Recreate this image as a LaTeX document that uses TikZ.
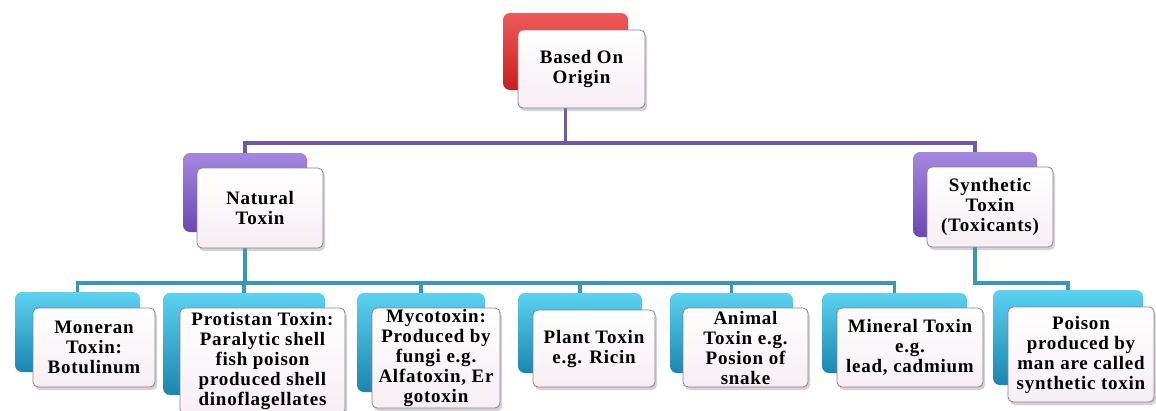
\documentclass[tikz,border=0pt]{standalone}
\usepackage{fontspec}
\setmainfont{Liberation Serif}
\newfontfamily\boxfont[LetterSpace=4]{Liberation Serif}
\usetikzlibrary{shadows,backgrounds}
\definecolor{redT}{HTML}{F05A5A}
\definecolor{redB}{HTML}{C81E1E}
\definecolor{purT}{HTML}{A488E0}
\definecolor{purB}{HTML}{6A48B0}
\definecolor{teaT}{HTML}{5AD2F0}
\definecolor{teaB}{HTML}{1A86B0}
\definecolor{purLine}{HTML}{6E5AA8}
\definecolor{teaLine}{HTML}{3898B8}
\definecolor{frontEdge}{HTML}{8C8094}
\definecolor{frontBot}{HTML}{F6EEF3}
\begin{document}
\begin{tikzpicture}[x=1pt,y=-1pt,
  back/.style={rounded corners=7pt, draw=none, inner sep=0pt},
  redback/.style={back, top color=redT, bottom color=redB},
  purback/.style={back, top color=purT, bottom color=purB},
  teaback/.style={back, top color=teaT, bottom color=teaB},
  front/.style={rounded corners=5pt, draw=frontEdge, line width=0.8pt,
    top color=white, bottom color=frontBot, align=center, inner sep=1pt,
    font=\boxfont\bfseries\fontsize{19}{20}\selectfont,
    drop shadow={opacity=0.35, shadow xshift=2pt, shadow yshift=-3pt}},
  pline/.style={draw=purLine, line width=3.5pt},
  tline/.style={draw=teaLine, line width=3.5pt}]
\useasboundingbox (0,0) rectangle (1156,410);

% level 0
\node[redback, minimum width=125pt, minimum height=77pt] (topB) at (565.5,51.5) {};
\node[front, minimum width=127pt, minimum height=78pt] (topF) at (581.5,69) {Based On\\Origin};

% level 1
\node[purback, minimum width=124pt, minimum height=79pt] (natB) at (245,192.5) {};
\node[front, minimum width=126pt, minimum height=80pt] (natF) at (260,208) {Natural\\Toxin};
\node[purback, minimum width=124pt, minimum height=85pt] (synB) at (975,194.5) {};
\node[front, minimum width=126pt, minimum height=80pt] (synF) at (990,207) {Synthetic\\Toxin\\(Toxicants)};

% level 2
\node[teaback, minimum width=125pt, minimum height=80pt] (monB) at (77.5,332) {};
\node[front, minimum width=122pt, minimum height=79pt] (monF) at (94,347.5) {Moneran\\Toxin:\\Botulinum};
\node[teaback, minimum width=162pt, minimum height=102pt] (proB) at (244,344) {};
\node[front, minimum width=165pt, minimum height=106pt] (proF) at (262.5,361) {Protistan Toxin:\\Paralytic shell\\fish poison\\produced shell\\dinoflagellates};
\node[teaback, minimum width=128pt, minimum height=99pt] (myB) at (421,342.5) {};
\node[front, minimum width=128pt, minimum height=100pt] (myF) at (436,358) {Mycotoxin:\\Produced by\\fungi e.g.\\Alfatoxin, Er\\gotoxin};
\node[teaback, minimum width=124pt, minimum height=80pt] (plB) at (580,333) {};
\node[front, minimum width=122pt, minimum height=77pt] (plF) at (594,348.5) {Plant Toxin\\e.g. Ricin};
\node[teaback, minimum width=123pt, minimum height=80pt] (anB) at (731.5,333) {};
\node[front, minimum width=125pt, minimum height=79pt] (anF) at (745.5,347.5) {Animal\\Toxin e.g.\\Posion of\\snake};
\node[teaback, minimum width=145pt, minimum height=80pt] (miB) at (894.5,333) {};
\node[front, minimum width=146pt, minimum height=79pt] (miF) at (910,347.5) {Mineral Toxin\\e.g.\\lead, cadmium};
\node[teaback, minimum width=150pt, minimum height=95pt] (poB) at (1068,337.5) {};
\node[front, minimum width=146pt, minimum height=95pt] (poF) at (1081,354.5) {Poison\\produced by\\man are called\\synthetic toxin};

\coordinate (busP) at (0,143);
\coordinate (busT) at (0,283);
\begin{pgfonlayer}{background}
  \fill[white] (0,0) rectangle (1156,410);
  \draw[pline] (topB.south) -- (topB.south |- busP);
  \draw[pline] (natB.north) -- (natB.north |- busP) -- (synB.north |- busP) -- (synB.north);
  \draw[tline] (natB.south) -- (natB.south |- busT);
  \draw[tline] (monB.north) -- (monB.north |- busT) -- (miB.north |- busT) -- (miB.north);
  \foreach \n in {proB,myB,plB,anB}
    \draw[tline] (\n.north) -- (\n.north |- busT);
  \draw[tline] (synB.south) -- (synB.south |- busT) -- (poB.north |- busT) -- (poB.north);
\end{pgfonlayer}
\end{tikzpicture}
\end{document}
